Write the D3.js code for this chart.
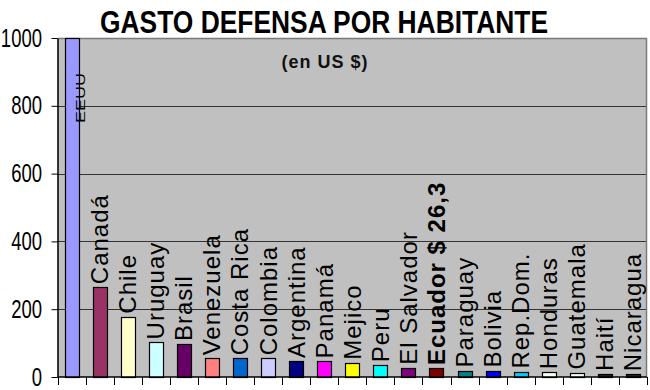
<!DOCTYPE html>
<html>
<head>
<meta charset="utf-8">
<script src="https://cdn.jsdelivr.net/npm/d3@7"></script>
<style>
  body { margin: 0; background: #fff; }
  svg { display: block; font-family: "Liberation Sans", Arial, sans-serif; }
</style>
</head>
<body>
<div id="chart"></div>
<script>
// --- datos ---
const countries = ["EEUU", "Canadá", "Chile", "Uruguay", "Brasil", "Venezuela", "Costa Rica",
  "Colombia", "Argentina", "Panamá", "Mejico", "Peru", "El Salvador", "Ecuador", "Paraguay",
  "Bolivia", "Rep.Dom.", "Honduras", "Guatemala", "Haití", "Nicaragua"];
const spending = [1000, 265, 178, 102, 97, 55, 55, 55, 47, 46, 42, 35, 27, 26.3, 19, 19,
  16, 14, 13, 9, 8];
const barColors = ["#9999ff", "#993366", "#ffffcc", "#ccffff", "#660066", "#ff8080", "#0066cc",
  "#ccccff", "#000080", "#ff00ff", "#ffff00", "#00ffff", "#800080", "#800000", "#008080",
  "#0000ff", "#00ccff", "#f4fff4", "#eeffee", "#222222", "#222222"];
const yTicks = [0, 200, 400, 600, 800, 1000];
const highlight = "Ecuador";
const title = "GASTO DEFENSA POR HABITANTE";
const subtitle = "(en US $)";

const width = 650, height = 390;
const plot = { left: 57.5, right: 647, top: 38, bottom: 377 };

const svg = d3.select("#chart").append("svg")
  .attr("width", width)
  .attr("height", height);

const x = d3.scaleBand()
  .domain(countries)
  .range([plot.left, plot.right])
  .paddingInner(0.5)
  .paddingOuter(0.25);

const y = d3.scaleLinear()
  .domain([0, 1000])
  .range([plot.bottom, plot.top]);

// fondo gris del area
svg.append("rect")
  .attr("x", plot.left).attr("y", plot.top)
  .attr("width", plot.right - plot.left)
  .attr("height", plot.bottom - plot.top)
  .attr("fill", "#c0c0c0");

// lineas de grilla
svg.append("g")
  .selectAll("line")
  .data(yTicks.filter(d => d > 0 && d < 1000))
  .enter().append("line")
  .attr("x1", plot.left).attr("x2", plot.right)
  .attr("y1", d => Math.round(y(d)) + 0.5)
  .attr("y2", d => Math.round(y(d)) + 0.5)
  .attr("stroke", "#333")
  .attr("stroke-width", 1);

// borde superior / derecho
svg.append("path")
  .attr("d", `M${plot.left},${plot.top + 0.5}H${plot.right - 0.5}V${plot.bottom}`)
  .attr("fill", "none")
  .attr("stroke", "#7a7a7a")
  .attr("stroke-width", 1.5);

// barras
svg.append("g")
  .selectAll("rect")
  .data(countries)
  .enter().append("rect")
  .attr("x", d => Math.round(x(d)) + 0.5)
  .attr("y", (d, i) => Math.round(y(Math.min(spending[i], 1000))) + 0.5)
  .attr("width", Math.round(x.bandwidth()))
  .attr("height", (d, i) => Math.max(1, Math.round(plot.bottom - y(Math.min(spending[i], 1000)))))
  .attr("fill", (d, i) => barColors[i])
  .attr("stroke", "#000")
  .attr("stroke-width", 1.2);

// eje Y
const yAxis = svg.append("g")
  .attr("transform", `translate(${plot.left},0)`)
  .call(d3.axisLeft(y).tickValues(yTicks).tickFormat(d3.format("d"))
    .tickSize(6).tickSizeOuter(0).tickPadding(0));
yAxis.select(".domain").attr("stroke", "#000").attr("stroke-width", 1.5);
yAxis.selectAll(".tick line").attr("stroke", "#000");
yAxis.selectAll(".tick text")
  .attr("font-family", "Liberation Sans, Arial, sans-serif")
  .attr("font-size", 25)
  .attr("fill", "#000")
  .attr("x", -15.5 / 0.74)
  .attr("dy", "0.32em")
  .attr("transform", "scale(0.74,1)");

// eje X (linea base y marcas entre categorias)
svg.append("line")
  .attr("x1", plot.left).attr("x2", plot.right)
  .attr("y1", plot.bottom).attr("y2", plot.bottom)
  .attr("stroke", "#000").attr("stroke-width", 1.5);
const step = x.step();
const bounds = d3.range(countries.length + 1).map(i => x.range()[0] + i * step);
svg.append("g")
  .selectAll("line")
  .data(bounds)
  .enter().append("line")
  .attr("x1", d => Math.round(d) + 0.5).attr("x2", d => Math.round(d) + 0.5)
  .attr("y1", plot.bottom).attr("y2", plot.bottom + 8)
  .attr("stroke", "#000");

// etiquetas de paises (verticales)
const fmt = v => String(v).replace(".", ",");
const clipped = v => v >= y.domain()[1];
svg.append("g")
  .selectAll("text")
  .data(countries)
  .enter().append("text")
  .attr("transform", (d, i) => {
    const cx = x(d) + x.bandwidth() / 2;
    if (clipped(spending[i])) return `translate(${cx + 13},123) rotate(-90) scale(1,0.75)`;
    return `translate(${cx + 8.5},${y(spending[i]) - 3}) rotate(-90)`;
  })
  .attr("font-size", (d, i) => clipped(spending[i]) ? 18 : 24)
  .attr("letter-spacing", (d, i) => clipped(spending[i]) ? 0 : 1)
  .attr("font-weight", d => d === highlight ? "bold" : "normal")
  .attr("fill", "#000")
  .text((d, i) => d === highlight ? `${d} $ ${fmt(spending[i])}` : d);

// titulos
svg.append("text")
  .attr("x", 100).attr("y", 33)
  .attr("textLength", 448)
  .attr("lengthAdjust", "spacingAndGlyphs")
  .attr("font-size", 32)
  .attr("font-weight", "bold")
  .attr("fill", "#000")
  .text(title);

svg.append("text")
  .attr("x", 325).attr("y", 68)
  .attr("text-anchor", "middle")
  .attr("font-size", 18)
  .attr("font-weight", "bold")
  .attr("letter-spacing", 1)
  .attr("fill", "#111")
  .text(subtitle);
</script>
</body>
</html>
